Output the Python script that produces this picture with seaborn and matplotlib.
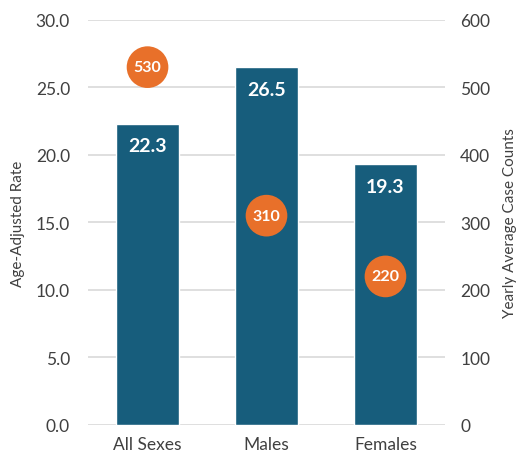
import matplotlib
matplotlib.use("Agg")
import matplotlib.pyplot as plt
import seaborn as sns
import pandas as pd

categories = ["All Sexes", "Males", "Females"]
rates = [22.3, 26.5, 19.3]
counts = [530, 310, 220]
left_ticks = [0, 5, 10, 15, 20, 25, 30]
right_ticks = [0, 100, 200, 300, 400, 500, 600]

sns.set_theme(style="white")
plt.rcParams['font.family'] = ['Lato', 'DejaVu Sans']

BAR = "#175d7c"
ORANGE = "#e8702a"
TXT = "#404040"
GRID = "#d9d9d9"

df = pd.DataFrame({"cat": categories, "rate": rates, "count": counts})

fig = plt.figure(figsize=(5.21, 4.64), dpi=100)
ax = fig.add_axes([0.169, 0.082, 0.685, 0.873])
sns.barplot(data=df, x="cat", y="rate", color=BAR, width=0.53, saturation=1, ax=ax, zorder=2)
ax.set_ylim(0, 30)
ax.set_xlim(-0.5, 2.5)
ax.set_yticks(left_ticks)
ax.set_yticklabels([f"{t:.1f}" for t in left_ticks])
ax.yaxis.grid(True, color=GRID, linewidth=1.2, zorder=0)
ax.set_axisbelow(True)
for s in ax.spines.values():
    s.set_visible(False)
ax.tick_params(axis="both", length=0, labelsize=12.5, labelcolor=TXT, pad=8)
ax.tick_params(axis="y", pad=13)
ax.set_xlabel("")
ax.set_ylabel("Age-Adjusted Rate", fontsize=11, color=TXT, labelpad=8)

for i, v in enumerate(rates):
    ax.annotate(f"{v:.1f}", (i, v), xytext=(0, -22), textcoords="offset pixels",
                ha="center", va="center", color="white", fontsize=14, fontweight="bold")

ax2 = ax.twinx()
sns.scatterplot(data=df, x="cat", y="count", s=900, color=ORANGE, edgecolor="none",
                ax=ax2, zorder=3, legend=False)
ax2.set_ylim(0, 600)
ax2.set_xlim(-0.5, 2.5)
ax2.set_yticks(right_ticks)
ax2.set_yticklabels([str(t) for t in right_ticks])
for s in ax2.spines.values():
    s.set_visible(False)
ax2.tick_params(axis="y", length=0, labelsize=12.5, labelcolor=TXT, pad=11)
ax2.set_ylabel("Yearly Average Case Counts", fontsize=11, color=TXT, labelpad=9)
ax2.grid(False)
for i, c in enumerate(counts):
    ax2.text(i, c, str(c), ha="center", va="center", color="white",
             fontsize=11.5, fontweight="bold", zorder=4)

fig.savefig("out.png", dpi=100)
